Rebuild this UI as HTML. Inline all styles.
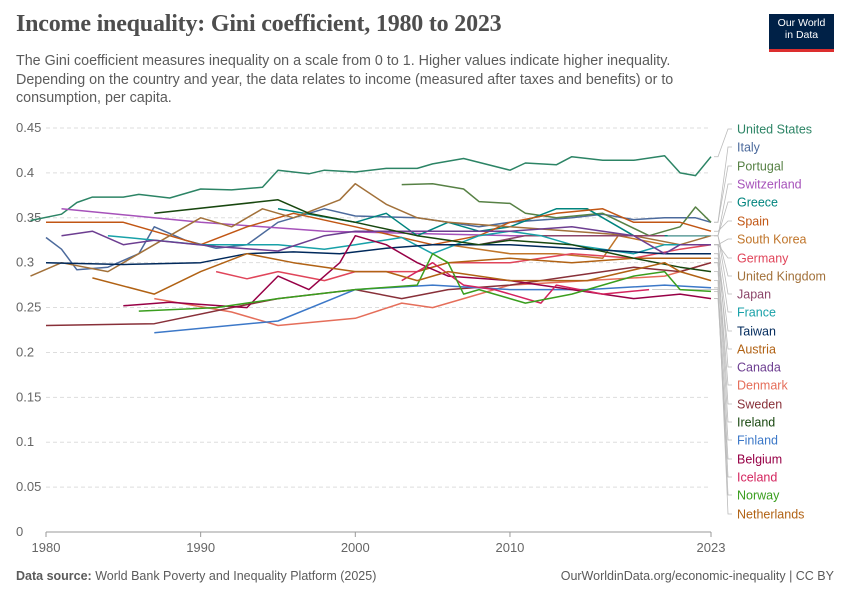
<!DOCTYPE html>
<html><head><meta charset="utf-8">
<style>
body{margin:0;width:850px;height:600px;background:#fff;font-family:"Liberation Sans",sans-serif;overflow:hidden;position:relative}
h1{position:absolute;left:16px;top:11px;margin:0;font-family:"Liberation Serif",serif;font-weight:bold;font-size:24px;color:#4e4e4e;letter-spacing:-0.2px}
.sub{position:absolute;left:16px;top:52px;width:720px;font-size:14.3px;line-height:18.5px;color:#5b5b5b}
.logo{position:absolute;left:769px;top:14px;width:65px;height:38px;background:#002147;color:#fff;font-size:10.5px;text-align:center;line-height:12px;padding-top:3px;box-sizing:border-box;border-bottom:3px solid #dc2e2e}
.foot{position:absolute;top:569px;font-size:12.5px;color:#5b5b5b}
</style></head><body>
<h1>Income inequality: Gini coefficient, 1980 to 2023</h1>
<div class="sub">The Gini coefficient measures inequality on a scale from 0 to 1. Higher values indicate higher inequality. Depending on the country and year, the data relates to income (measured after taxes and benefits) or to consumption, per capita.</div>
<div class="logo">Our World<br>in Data</div>
<div class="foot" style="left:16px"><b>Data source:</b> World Bank Poverty and Inequality Platform (2025)</div>
<div class="foot" style="right:16px">OurWorldinData.org/economic-inequality | CC BY</div>
<svg id="chart" width="850" height="600" style="position:absolute;left:0;top:0"></svg>
<script>
const yTicks=[0,0.05,0.1,0.15,0.2,0.25,0.3,0.35,0.4,0.45];
const yTickLabels=["0","0.05","0.1","0.15","0.2","0.25","0.3","0.35","0.4","0.45"];
const xTicks=[1980,1990,2000,2010,2023];
const countries=["United States","Italy","Portugal","Switzerland","Greece","Spain","South Korea","Germany","United Kingdom","Japan","France","Taiwan","Austria","Canada","Denmark","Sweden","Ireland","Finland","Belgium","Iceland","Norway","Netherlands"];
const colors=["#2c8465","#4c6a9c","#578145","#a652ba","#00847e","#c15614","#c0752a","#e0455a","#a2713a","#8c4569","#18a1a8","#00295b","#b16214","#6d3e91","#e56e5a","#883039","#18470f","#3c78c8","#970046","#d4245e","#3a9e1e","#b16214"];
const usYears=[1979,1981,1982,1983,1985,1986,1988,1990,1992,1994,1995,1997,1998,2000,2002,2004,2005,2007,2010,2011,2013,2014,2016,2018,2020,2021,2022,2023];
const usVals=[0.347,0.354,0.367,0.373,0.373,0.376,0.372,0.382,0.381,0.384,0.403,0.399,0.403,0.401,0.405,0.405,0.41,0.416,0.403,0.411,0.409,0.418,0.414,0.414,0.419,0.400,0.397,0.418];
const itYears=[1980,1981,1982,1984,1986,1987,1989,1991,1993,1995,1998,2000,2004,2008,2010,2014,2016,2018,2020,2022,2023];
const itVals=[0.328,0.315,0.292,0.295,0.31,0.34,0.325,0.316,0.32,0.345,0.36,0.352,0.35,0.34,0.345,0.35,0.354,0.348,0.35,0.35,0.345];
const ptYears=[2003,2005,2007,2008,2010,2011,2013,2016,2019,2020,2021,2022,2023];
const ptVals=[0.387,0.388,0.382,0.368,0.366,0.355,0.35,0.355,0.33,0.335,0.34,0.362,0.345];
const chYears=[1981,1990,1998,2005,2010,2015,2018,2023];
const chVals=[0.36,0.345,0.335,0.332,0.33,0.33,0.33,0.33];
const grYears=[1995,2000,2002,2004,2006,2008,2010,2013,2015,2018,2020,2023];
const grVals=[0.36,0.345,0.355,0.33,0.345,0.335,0.34,0.36,0.36,0.33,0.33,0.33];
const esYears=[1980,1985,1990,1993,1996,2000,2005,2008,2010,2013,2016,2018,2021,2023];
const esVals=[0.345,0.345,0.32,0.34,0.355,0.34,0.32,0.33,0.345,0.355,0.36,0.345,0.345,0.335];
const krYears=[2006,2008,2010,2013,2016,2017,2020,2023];
const krVals=[0.32,0.315,0.31,0.31,0.305,0.33,0.32,0.32];
const deYears=[1991,1993,1995,1998,2000,2002,2004,2006,2010,2014,2018,2021,2023];
const deVals=[0.29,0.282,0.29,0.28,0.29,0.29,0.29,0.3,0.3,0.31,0.305,0.315,0.32];
const ukYears=[1979,1981,1984,1986,1988,1990,1992,1994,1996,1999,2000,2002,2004,2006,2010,2014,2018,2021,2023];
const ukVals=[0.285,0.3,0.29,0.31,0.33,0.35,0.34,0.36,0.35,0.37,0.388,0.365,0.35,0.345,0.34,0.335,0.33,0.32,0.33];
const jpYears=[2008,2011,2013,2015,2017,2020];
const jpVals=[0.32,0.33,0.33,0.33,0.33,0.33];
const frYears=[1984,1990,1995,1998,2000,2003,2005,2008,2010,2012,2014,2018,2020,2023];
const frVals=[0.33,0.32,0.32,0.315,0.32,0.328,0.31,0.33,0.335,0.33,0.32,0.31,0.32,0.32];
const twYears=[1980,1985,1990,1993,1996,1999,2002,2005,2010,2015,2020,2023];
const twVals=[0.3,0.298,0.3,0.31,0.312,0.31,0.316,0.32,0.32,0.315,0.31,0.31];
const atYears=[2004,2006,2010,2014,2018,2023];
const atVals=[0.29,0.3,0.305,0.3,0.305,0.305];
const caYears=[1981,1983,1985,1987,1991,1995,1998,2000,2004,2010,2014,2018,2020,2021,2023];
const caVals=[0.33,0.335,0.32,0.325,0.318,0.313,0.33,0.335,0.335,0.335,0.34,0.33,0.31,0.32,0.32];
const dkYears=[1987,1992,1995,2000,2003,2005,2007,2010,2015,2020,2023];
const dkVals=[0.26,0.245,0.23,0.238,0.255,0.25,0.26,0.275,0.28,0.285,0.3];
const seYears=[1980,1987,1992,1995,2000,2003,2006,2010,2014,2018,2021,2023];
const seVals=[0.23,0.232,0.25,0.26,0.27,0.26,0.27,0.275,0.285,0.295,0.29,0.3];
const ieYears=[1987,1995,1997,2000,2004,2008,2010,2014,2018,2021,2023];
const ieVals=[0.355,0.37,0.355,0.345,0.33,0.32,0.325,0.32,0.305,0.295,0.29];
const fiYears=[1987,1995,2000,2005,2010,2015,2020,2023];
const fiVals=[0.222,0.235,0.27,0.275,0.27,0.27,0.275,0.272];
const beYears=[1985,1988,1993,1995,1997,1999,2000,2002,2004,2006,2010,2014,2018,2021,2023];
const beVals=[0.252,0.256,0.25,0.285,0.27,0.3,0.33,0.32,0.3,0.285,0.28,0.27,0.26,0.265,0.26];
const isYears=[2003,2005,2007,2009,2012,2013,2016,2019];
const isVals=[0.28,0.3,0.275,0.27,0.255,0.275,0.265,0.27];
const noYears=[1986,1991,1995,2000,2004,2005,2006,2007,2008,2011,2014,2018,2020,2021,2023];
const noVals=[0.246,0.25,0.26,0.27,0.275,0.31,0.3,0.265,0.27,0.255,0.265,0.285,0.29,0.27,0.268];
const nlYears=[1983,1987,1990,1993,1996,2000,2002,2004,2006,2010,2015,2020,2021,2023];
const nlVals=[0.283,0.265,0.29,0.31,0.3,0.29,0.29,0.28,0.29,0.28,0.28,0.3,0.29,0.28];
const seriesYears=[usYears,itYears,ptYears,chYears,grYears,esYears,krYears,deYears,ukYears,jpYears,frYears,twYears,atYears,caYears,dkYears,seYears,ieYears,fiYears,beYears,isYears,noYears,nlYears];
const seriesVals=[usVals,itVals,ptVals,chVals,grVals,esVals,krVals,deVals,ukVals,jpVals,frVals,twVals,atVals,caVals,dkVals,seVals,ieVals,fiVals,beVals,isVals,noVals,nlVals];

const NS="http://www.w3.org/2000/svg";
const svg=document.getElementById('chart');
const X0=46,X1=711,Y0=532,Y45=128;
function xs(yr){return X0+(yr-1980)*(X1-X0)/43;}
function ys(v){return Y0-v*(Y0-Y45)/0.45;}
function mk(t,a){const e=document.createElementNS(NS,t);for(const k in a)e.setAttribute(k,a[k]);svg.appendChild(e);return e;}
yTicks.forEach((v,i)=>{
  const g=mk('line',{x1:46,x2:711,y1:ys(v),y2:ys(v),stroke:'#ddd','stroke-dasharray':v===0?'':'4,3'});
  
  
  const t=mk('text',{x:16,y:ys(v)+4,'font-size':13,fill:'#666','font-family':'Liberation Sans,sans-serif'});
  t.textContent=yTickLabels[i];
  
  
});
mk('line',{x1:46,x2:711,y1:532,y2:532,stroke:'#999'});
xTicks.forEach(yr=>{
  const tk=mk('line',{x1:xs(yr),x2:xs(yr),y1:532,y2:537,stroke:'#999'});
  
  
  const t=mk('text',{x:xs(yr),y:552,'font-size':13,fill:'#666','text-anchor':'middle','font-family':'Liberation Sans,sans-serif'});
  t.textContent=yr;
  
  
});
const labelY=[129,147,166,184,202,221,239,258,276,294,312,331,349,367,385,404,422,440,459,477,495,514];
countries.forEach((c,i)=>{
  const yrs=seriesYears[i],vals=seriesVals[i];
  const pts=yrs.map((y,j)=>xs(y).toFixed(1)+','+ys(vals[j]).toFixed(1)).join(' ');
  const p=mk('polyline',{points:pts,fill:'none',stroke:colors[i],'stroke-width':1.5,'stroke-linejoin':'round'});
  
  
  const ey=ys(vals[vals.length-1]),ex=xs(yrs[yrs.length-1]);
  const conn=mk('polyline',{points:`${ex+3},${ey} 718,${ey} 728,${labelY[i]} 732,${labelY[i]}`,fill:'none',stroke:'#bbb','stroke-width':0.8});
  
  
  const t=mk('text',{x:737,y:labelY[i]+4.5,'font-size':12.5,fill:colors[i],'font-family':'Liberation Sans,sans-serif'});
  t.textContent=c;
  
  
});
</script>
</body></html>
